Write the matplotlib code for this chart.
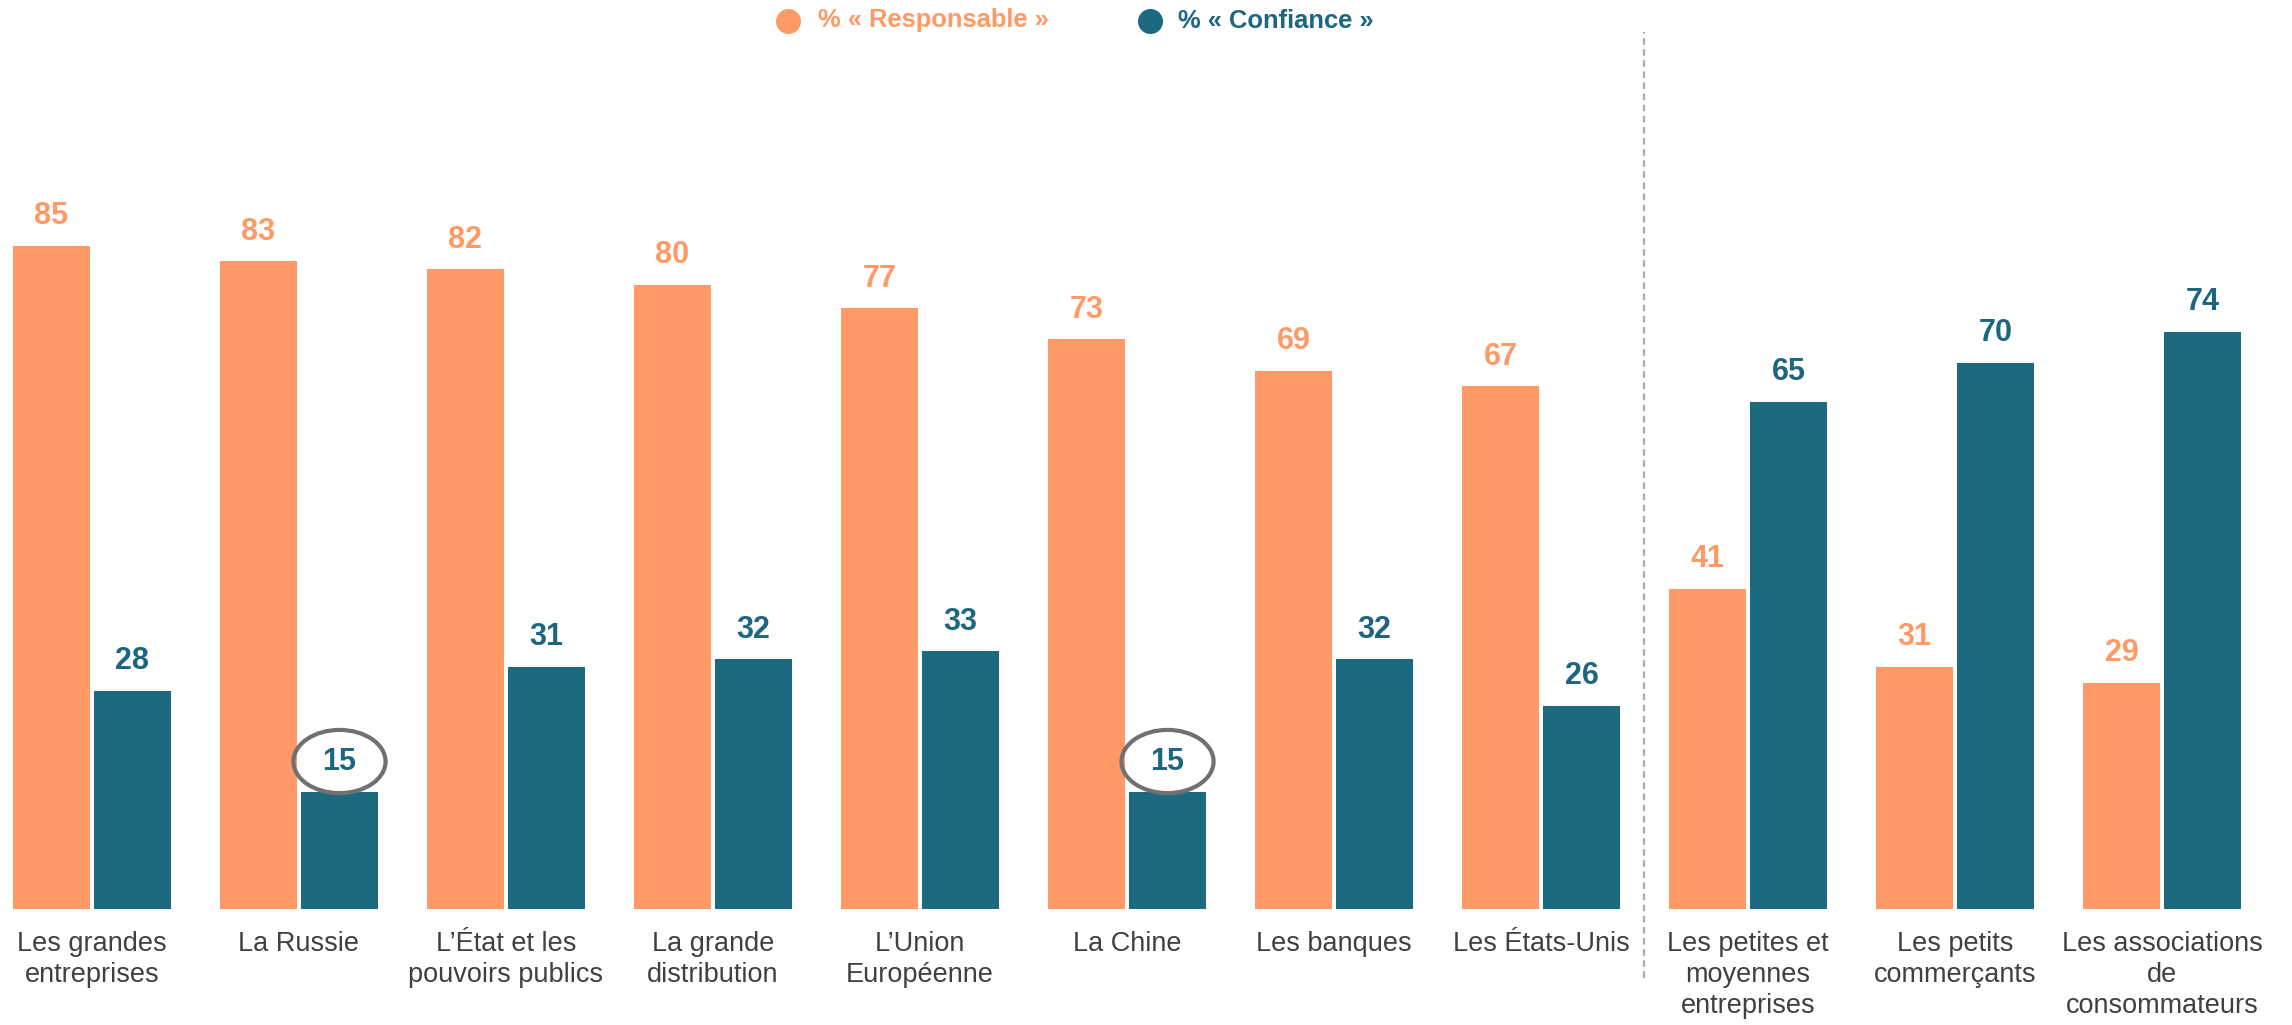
#!/usr/bin/env python3

import matplotlib
matplotlib.use("Agg")
import matplotlib.pyplot as plt
from matplotlib.patches import Ellipse
import numpy as np

# --- Data ---
categories = [
    "Les grandes\nentreprises",
    "La Russie",
    "L’État et les\npouvoirs publics",
    "La grande\ndistribution",
    "L’Union\nEuropéenne",
    "La Chine",
    "Les banques",
    "Les États-Unis",
    "Les petites et\nmoyennes\nentreprises",
    "Les petits\ncommerçants",
    "Les associations\nde\nconsommateurs",
]
responsable = [85, 83, 82, 80, 77, 73, 69, 67, 41, 31, 29]
confiance = [28, 15, 31, 32, 33, 15, 32, 26, 65, 70, 74]
highlighted = [1, 5]          # teal values circled in the chart
series_names = ["% « Responsable »", "% « Confiance »"]

# --- Style ---
ORANGE = "#FF9A66"
TEAL = "#1C6A80"
TEAL_TEXT = "#1C6680"
LABEL_GREY = "#404040"
plt.rcParams["font.family"] = ["Liberation Sans", "DejaVu Sans"]

W, H, DPI = 2292, 1025, 100
fig = plt.figure(figsize=(W / DPI, H / DPI), dpi=DPI)
ax = fig.add_axes([0, 0, 1, 1])
ax.set_xlim(-0.444, 10.628)
ax.set_ylim(-14.87, 116.5)
ax.axis("off")

x = np.arange(len(categories))
width = 0.372
off = 0.196

ax.bar(x - off, responsable, width, color=ORANGE)
ax.bar(x + off, confiance, width, color=TEAL)

# value labels
for i in range(len(categories)):
    ax.text(x[i] - off, responsable[i] + 3.8, str(responsable[i]),
            ha="center", va="center", fontsize=22, fontweight="bold", color=ORANGE)
    ax.text(x[i] + off, confiance[i] + 3.8, str(confiance[i]),
            ha="center", va="center", fontsize=22, fontweight="bold", color=TEAL_TEXT)

# circles around the lowest trust values
for i in highlighted:
    ax.add_patch(Ellipse((x[i] + off, confiance[i] + 3.9), 0.445, 8.1,
                         fill=False, edgecolor="#707070", linewidth=3))

# category labels
for i, cat in enumerate(categories):
    ax.text(x[i], -2.8, cat, ha="center", va="top", fontsize=19.5,
            color=LABEL_GREY, linespacing=1.25)

# separator
ax.plot([7.5, 7.5], [-8.8, 112.4], color="#AAAAAA", lw=1.6,
        linestyle=(0, (3, 2)), clip_on=False)

# legend
for mx, tx, col, tcol, name in [
    (0.3438, 0.357, ORANGE, ORANGE, series_names[0]),
    (0.5017, 0.514, TEAL, TEAL_TEXT, series_names[1]),
]:
    ax.plot([mx], [0.980], marker="o", ms=17, color=col, mec=col,
            transform=fig.transFigure, clip_on=False)
    fig.text(tx, 0.980, name, ha="left", va="center", fontsize=18.4,
             fontweight="bold", color=tcol)

fig.savefig("out.png", dpi=DPI)
